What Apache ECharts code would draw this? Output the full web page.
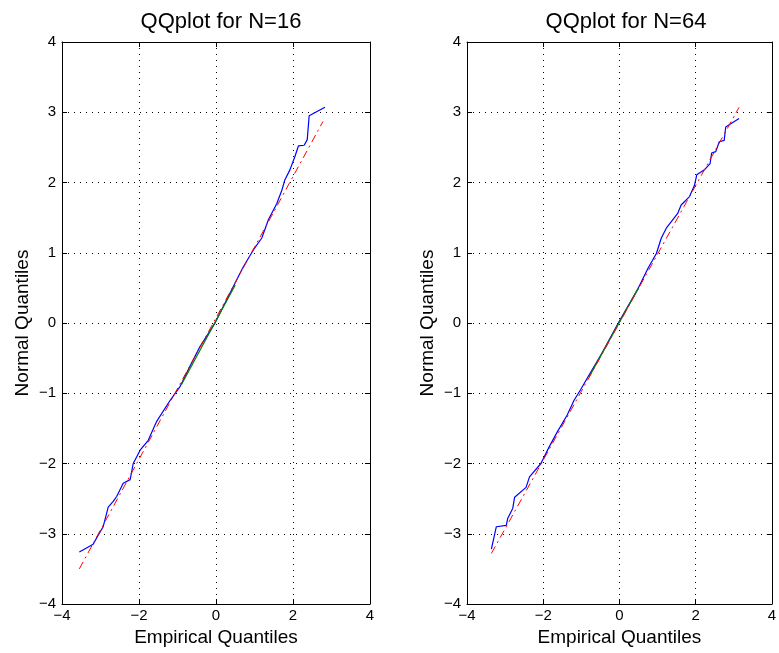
<!DOCTYPE html>
<html>
<head>
<meta charset="utf-8">
<script src="https://cdn.jsdelivr.net/npm/echarts@6/dist/echarts.min.js"></script>
<style>html,body{margin:0;padding:0;background:#fff}#c{width:779px;height:653px}</style>
</head>
<body>
<div id="c"></div>
<script>
const titles = ["QQplot for N=16", "QQplot for N=64"];
const xTicks = [-4, -2, 0, 2, 4];
const yTicks = [-4, -3, -2, -1, 0, 1, 2, 3, 4];

// Left panel (N=16): empirical vs normal quantile trace
const qq16 = [
  [-3.55,-3.26],[-3.19,-3.15],[-3.06,-3.02],[-2.93,-2.90],[-2.80,-2.62],[-2.67,-2.54],
  [-2.58,-2.47],[-2.41,-2.28],[-2.23,-2.23],[-2.15,-2.00],[-1.97,-1.81],[-1.76,-1.67],
  [-1.54,-1.40],[-1.19,-1.10],[-0.94,-0.91],[-0.68,-0.62],[-0.42,-0.34],[-0.03,-0.005],
  [0.45,0.52],[0.71,0.80],[0.97,1.04],[1.19,1.21],[1.36,1.47],[1.58,1.70],[1.71,1.89],
  [1.79,2.04],[1.92,2.18],[2.05,2.37],[2.14,2.52],[2.29,2.53],[2.37,2.61],[2.42,2.95],
  [2.83,3.07]
];
const ref16 = [[-3.55,-3.50],[2.78,2.87]];
const mid16 = [[-0.9,-0.88],[0.5,0.54]];

// Right panel (N=64)
const qq64 = [
  [-3.36,-3.22],[-3.23,-2.90],[-2.97,-2.88],[-2.93,-2.78],[-2.80,-2.64],[-2.75,-2.48],
  [-2.45,-2.34],[-2.36,-2.19],[-2.06,-2.00],[-1.84,-1.76],[-1.63,-1.55],[-1.37,-1.31],
  [-1.19,-1.10],[-1.02,-0.95],[-0.72,-0.67],[-0.46,-0.43],[-0.03,0.00],[0.49,0.49],
  [0.75,0.78],[0.97,0.99],[1.10,1.21],[1.23,1.35],[1.53,1.56],[1.62,1.68],[1.84,1.80],
  [1.97,1.96],[2.03,2.11],[2.23,2.18],[2.38,2.27],[2.42,2.42],[2.53,2.44],[2.62,2.58],
  [2.75,2.60],[2.79,2.79],[3.14,2.91]
];
const ref64 = [[-3.36,-3.28],[3.14,3.07]];
const mid64 = [[-0.8,-0.77],[0.5,0.5]];

const panels = [
  {left: 62, qq: qq16, ref: ref16, mid: mid16},
  {left: 467, qq: qq64, ref: ref64, mid: mid64}
];

const FONT = "Liberation Sans, Arial, Helvetica, sans-serif";
const fmt = v => String(v).replace('-', '\u2212');

const grid = [], xAxis = [], yAxis = [], series = [], title = [];
panels.forEach((p, i) => {
  grid.push({left: p.left, top: 42, width: 308, height: 562, containLabel: false});
  title.push({text: titles[i], left: p.left + 154, top: 6, textAlign: 'center',
    textStyle: {fontFamily: FONT, fontWeight: 'normal', fontSize: 22, color: '#000'}});
  const axBase = {min: -4, max: 4, type: 'value', gridIndex: i};
  xAxis.push(Object.assign({}, axBase, {
    interval: 2, position: 'bottom',
    name: 'Empirical Quantiles', nameLocation: 'middle', nameGap: 23,
    nameTextStyle: {fontFamily: FONT, fontSize: 19, color: '#000'},
    axisLine: {show: true, onZero: false, lineStyle: {color: '#000', width: 1}},
    axisTick: {show: true, inside: true, length: 5, lineStyle: {color: '#000'}},
    axisLabel: {fontFamily: FONT, fontSize: 15, color: '#000', margin: 4, formatter: fmt},
    splitLine: {show: true, lineStyle: {color: '#000', type: [1, 5], width: 1}}
  }));
  xAxis.push(Object.assign({}, axBase, {
    interval: 2, position: 'top',
    axisLine: {show: true, onZero: false, lineStyle: {color: '#000', width: 1}},
    axisTick: {show: true, inside: true, length: 5, lineStyle: {color: '#000'}},
    axisLabel: {show: false}, splitLine: {show: false}
  }));
  yAxis.push(Object.assign({}, axBase, {
    interval: 1, position: 'left',
    name: 'Normal Quantiles', nameLocation: 'middle', nameGap: 30,
    nameTextStyle: {fontFamily: FONT, fontSize: 19, color: '#000'},
    axisLine: {show: true, onZero: false, lineStyle: {color: '#000', width: 1}},
    axisTick: {show: true, inside: true, length: 5, lineStyle: {color: '#000'}},
    axisLabel: {fontFamily: FONT, fontSize: 15, color: '#000', margin: 6, formatter: fmt},
    splitLine: {show: true, lineStyle: {color: '#000', type: [1, 5], width: 1}}
  }));
  yAxis.push(Object.assign({}, axBase, {
    interval: 1, position: 'right',
    axisLine: {show: true, onZero: false, lineStyle: {color: '#000', width: 1}},
    axisTick: {show: true, inside: true, length: 5, lineStyle: {color: '#000'}},
    axisLabel: {show: false}, splitLine: {show: false}
  }));
  const xi = i * 2, yi = i * 2;
  series.push({type: 'line', xAxisIndex: xi, yAxisIndex: yi, data: p.qq, showSymbol: false,
    symbol: 'none', lineStyle: {color: '#0000ff', width: 1.2}, z: 2, animation: false});
  series.push({type: 'line', xAxisIndex: xi, yAxisIndex: yi, data: p.mid, showSymbol: false,
    symbol: 'none', lineStyle: {color: '#008000', width: 1.2}, z: 3, animation: false});
  series.push({type: 'line', xAxisIndex: xi, yAxisIndex: yi, data: p.ref, showSymbol: false,
    symbol: 'none', lineStyle: {color: '#ff0000', width: 1, type: [8, 4, 2, 4]}, z: 4, animation: false});
});

const chart = echarts.init(document.getElementById('c'), null, {renderer: 'canvas'});
chart.setOption({backgroundColor: '#fff', animation: false, title, grid, xAxis, yAxis, series});
</script>
</body>
</html>
